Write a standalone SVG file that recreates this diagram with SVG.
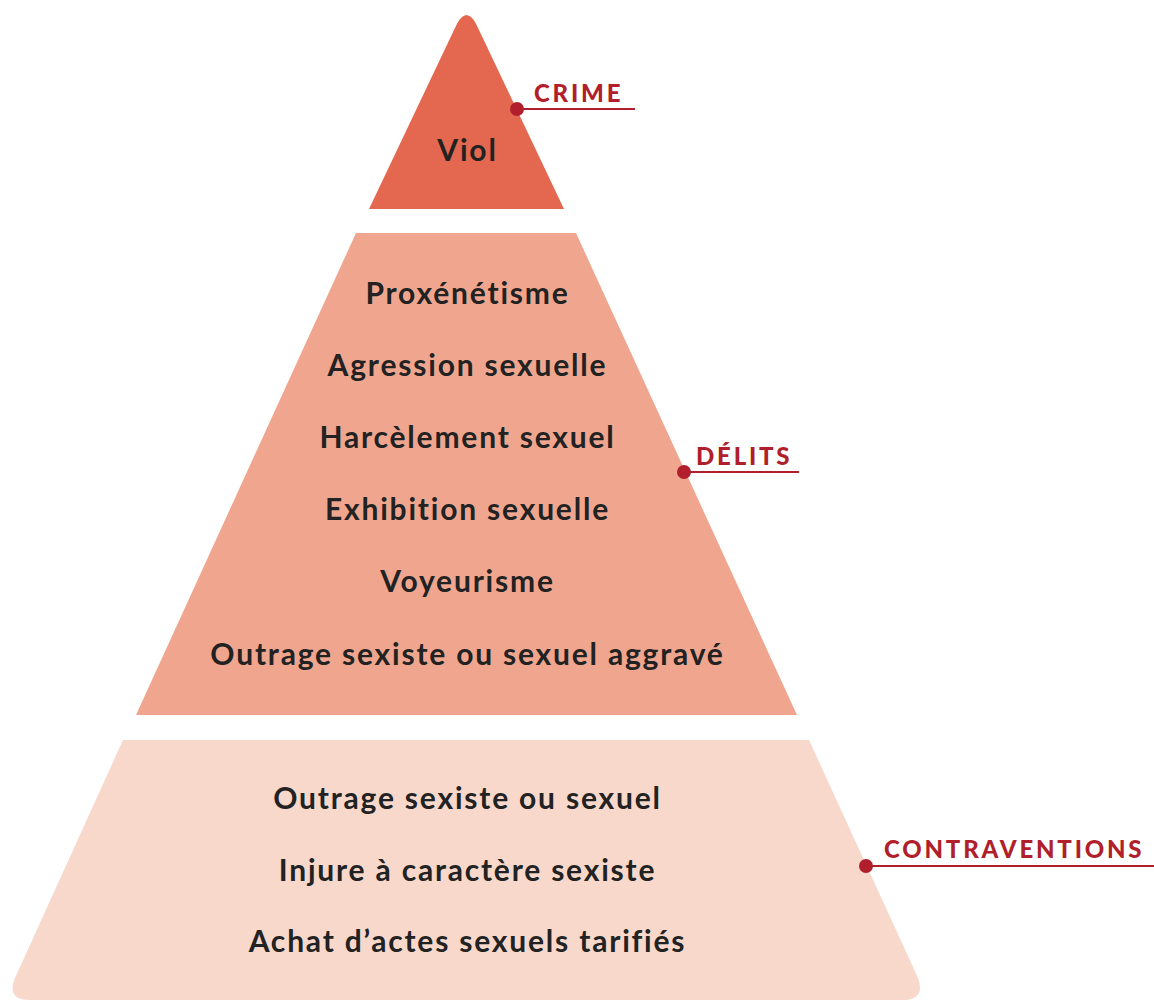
<svg xmlns="http://www.w3.org/2000/svg" width="1154" height="1002" viewBox="0 0 1154 1002">
<style>
.t{font-family:Lato,"Open Sans","Liberation Sans",sans-serif;font-weight:700;font-size:30px;fill:#222222;text-anchor:middle;letter-spacing:1.8px}
.l{font-family:Lato,"Open Sans","Liberation Sans",sans-serif;font-weight:900;font-size:24px;fill:#B01F2B;letter-spacing:2.8px}
.ln{stroke:#B01F2B;stroke-width:2.2;fill:none}
.dot{fill:#B01F2B}
</style>
<rect width="1154" height="1002" fill="#ffffff"/>
<g id="crime">
<path d="M369,209 L454,30 Q466.5,0 479,30 L564,209 Z" fill="#E4684F"/>
<text class="t" x="467.5" y="161">Viol</text>
</g>
<g id="delits">
<path d="M356,233 L576,233 L797,715 L136,715 Z" fill="#F0A68E"/>
<text class="t" x="467.5" y="304">Proxénétisme</text>
<text class="t" x="467.5" y="376">Agression sexuelle</text>
<text class="t" x="467.5" y="448">Harcèlement sexuel</text>
<text class="t" x="467.5" y="520">Exhibition sexuelle</text>
<text class="t" x="467.5" y="592">Voyeurisme</text>
<text class="t" x="467.5" y="665">Outrage sexiste ou sexuel aggravé</text>
</g>
<g id="contraventions">
<path d="M123,740 L809,740 L918,978 Q926,1000 902,1000 L30,1000 Q6,1000 15,978 Z" fill="#F7D8CB"/>
<text class="t" x="467.5" y="809">Outrage sexiste ou sexuel</text>
<text class="t" x="467.5" y="881">Injure à caractère sexiste</text>
<text class="t" x="467.5" y="952">Achat d’actes sexuels tarifiés</text>
</g>
<g id="connectors">
<line class="ln" x1="517" y1="109" x2="635" y2="109"/>
<circle class="dot" cx="517" cy="109" r="7"/>
<line class="ln" x1="684" y1="472" x2="799" y2="472"/>
<circle class="dot" cx="684" cy="472" r="7"/>
<line class="ln" x1="866" y1="866" x2="1154" y2="866"/>
<circle class="dot" cx="866" cy="866" r="7"/>
</g>
<g id="labels">
<text class="l" x="534" y="102">CRIME</text>
<text class="l" x="696" y="465">DÉLITS</text>
<text class="l" x="884" y="858">CONTRAVENTIONS</text>
</g>
</svg>
